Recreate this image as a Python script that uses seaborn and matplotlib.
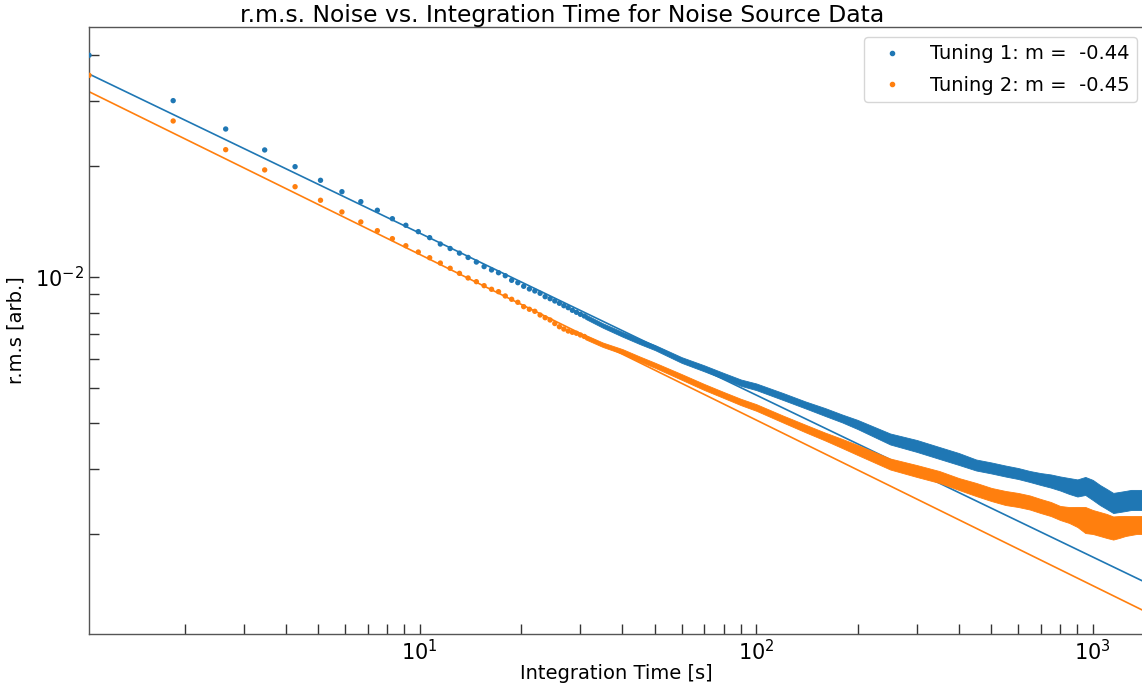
import matplotlib
matplotlib.use("Agg")
import matplotlib.pyplot as plt
from matplotlib.lines import Line2D
import numpy as np
import pandas as pd
import seaborn as sns

sns.set_theme(style="ticks")
plt.rcParams['font.family'] = ['DejaVu Sans']
plt.rcParams['text.color'] = 'black'
plt.rcParams['axes.labelcolor'] = 'black'
plt.rcParams['xtick.color'] = 'black'
plt.rcParams['ytick.color'] = 'black'

# ---- data ----
# early, individually visible samples
t_early = [1.04, 1.85, 2.65, 3.46, 4.26, 5.07, 5.87, 6.68, 7.48, 8.29, 9.09, 9.90,
           10.70, 11.51, 12.31, 13.12, 13.92, 14.73, 15.53, 16.34, 17.14, 17.95,
           18.75, 19.56, 20.36, 21.17, 21.97, 22.78, 23.58, 24.39, 25.19, 26.00,
           26.80, 27.61, 28.41, 29.22, 30.02, 30.83]
rms1_early = [0.04004, 0.03014, 0.02524, 0.02214, 0.01994, 0.01831, 0.01705, 0.01602,
              0.01518, 0.01440, 0.01382, 0.01328, 0.01279, 0.01229, 0.01195, 0.01161,
              0.01130, 0.01098, 0.01067, 0.01045, 0.01027, 0.01008, 0.009795, 0.009650,
              0.009435, 0.009278, 0.009162, 0.009030, 0.008840, 0.008730, 0.008606,
              0.008483, 0.008356, 0.008254, 0.008119, 0.008018, 0.007918, 0.007834]
rms2_early = [0.03532, 0.02654, 0.02218, 0.01954, 0.01759, 0.01616, 0.01502, 0.01411,
              0.01336, 0.01271, 0.01216, 0.01169, 0.01128, 0.01091, 0.01056, 0.01023,
              0.009938, 0.009710, 0.009471, 0.009260, 0.009122, 0.008880, 0.008698,
              0.008536, 0.008305, 0.008171, 0.008068, 0.007884, 0.007751, 0.007641,
              0.007474, 0.007325, 0.007221, 0.007132, 0.007075, 0.007031, 0.006957,
              0.006892]

# dense region: samples overlap into a noisy band (centre value and spread factor)
t_dense = [31, 35, 40, 45, 50, 60, 70, 80, 90, 100, 120, 140, 160, 180, 200, 250, 300,
           350, 400, 450, 500, 550, 600, 650, 700, 750, 800, 850, 900, 950, 1000, 1050,
           1100, 1150, 1200, 1250, 1300, 1350, 1420]
rms1_dense = [0.007810, 0.007381, 0.006988, 0.006680, 0.006429, 0.005948, 0.005647,
              0.005383, 0.005162, 0.005031, 0.004735, 0.004491, 0.004297, 0.004126,
              0.003974, 0.003629, 0.003474, 0.003325, 0.003202, 0.003084, 0.003027,
              0.002970, 0.002924, 0.002870, 0.002825, 0.002790, 0.002747, 0.002705,
              0.002671, 0.002705, 0.002638, 0.002556, 0.002493, 0.002432, 0.002447,
              0.002462, 0.002478, 0.002478, 0.002478]
rms1_spread = [1.014, 1.014, 1.015, 1.016, 1.016, 1.018, 1.019, 1.019, 1.020, 1.021,
               1.022, 1.022, 1.025, 1.025, 1.029, 1.035, 1.038, 1.038, 1.038, 1.035,
               1.035, 1.035, 1.035, 1.035, 1.038, 1.042, 1.045, 1.051, 1.055, 1.058,
               1.065, 1.065, 1.065, 1.065, 1.065, 1.065, 1.065, 1.065, 1.065]
rms2_dense = [0.006871, 0.006543, 0.006275, 0.005987, 0.005756, 0.005350, 0.005025,
              0.004779, 0.004574, 0.004420, 0.004112, 0.003875, 0.003686, 0.003528,
              0.003388, 0.003103, 0.002970, 0.002861, 0.002738, 0.002646, 0.002564,
              0.002509, 0.002478, 0.002439, 0.002386, 0.002342, 0.002284, 0.002256,
              0.002228, 0.002186, 0.002159, 0.002132, 0.002106, 0.002079, 0.002093,
              0.002106, 0.002112, 0.002119, 0.002119]
rms2_spread = [1.014, 1.014, 1.015, 1.016, 1.016, 1.018, 1.019, 1.019, 1.020, 1.021,
               1.022, 1.024, 1.025, 1.029, 1.032, 1.035, 1.038, 1.038, 1.038, 1.042,
               1.042, 1.045, 1.045, 1.045, 1.045, 1.045, 1.045, 1.051, 1.065, 1.085,
               1.078, 1.078, 1.078, 1.075, 1.071, 1.065, 1.061, 1.058, 1.058]

# power-law fits  rms = A * t**m
fit_slopes = [-0.44, -0.45]
fit_amps = [0.03623, 0.03245]
labels = ["Tuning 1: m =  -0.44", "Tuning 2: m =  -0.45"]
colors = ["#1f77b4", "#ff7f0e"]

x_min, x_max = 1.04, 1419.6
y_min, y_max = 1.0713e-3, 0.04778

# ---- figure ----
fig = plt.figure(figsize=(11.42, 6.85), dpi=100)
ax = fig.add_axes([89 / 1142, 51 / 685, 1055 / 1142, 607 / 685])
ax.set_xscale("log")
ax.set_yscale("log")

series = [(rms1_early, rms1_dense, rms1_spread), (rms2_early, rms2_dense, rms2_spread)]
for i, (early, dense, spread) in enumerate(series):
    sns.scatterplot(x=t_early, y=early, ax=ax, color=colors[i], s=15,
                    edgecolor="none", legend=False, zorder=3)
    dense = np.asarray(dense)
    spread = np.asarray(spread)
    ax.fill_between(t_dense, dense / spread, dense * spread, color=colors[i],
                    lw=0.6, edgecolor=colors[i], zorder=3)
    fit_t = np.array([x_min, x_max])
    fit_y = fit_amps[i] * fit_t ** fit_slopes[i]
    sns.lineplot(x=fit_t, y=fit_y, ax=ax, color=colors[i], lw=1.2,
                 legend=False, zorder=2)

ax.set_xlim(x_min, x_max)
ax.set_ylim(y_min, y_max)

for s in ["left", "bottom", "top", "right"]:
    ax.spines[s].set_color("#555555")
    ax.spines[s].set_linewidth(1.0)

ax.tick_params(axis="both", which="both", direction="in", length=7,
               width=1.0, color="#333333", labelsize=15, labelcolor="black")
ax.tick_params(axis="both", which="minor", labelleft=False, labelbottom=False)

ax.set_xlabel("Integration Time [s]", fontsize=14, labelpad=0)
ax.set_ylabel("r.m.s [arb.]", fontsize=14, labelpad=7)
fig.text(562 / 1142, 1 - 22 / 685, "r.m.s. Noise vs. Integration Time for Noise Source Data",
         ha="center", va="baseline", fontsize=16.9)

handles = [Line2D([], [], ls="none", marker=".", markersize=6, color=c) for c in colors]
leg = ax.legend(handles, labels, loc="upper right", fontsize=14, frameon=True,
                handletextpad=0.95, labelspacing=0.62, borderaxespad=0.5,
                bbox_to_anchor=(1.0025, 1.0))
leg.get_frame().set_edgecolor("#cccccc")

fig.savefig("out.png", dpi=100)
